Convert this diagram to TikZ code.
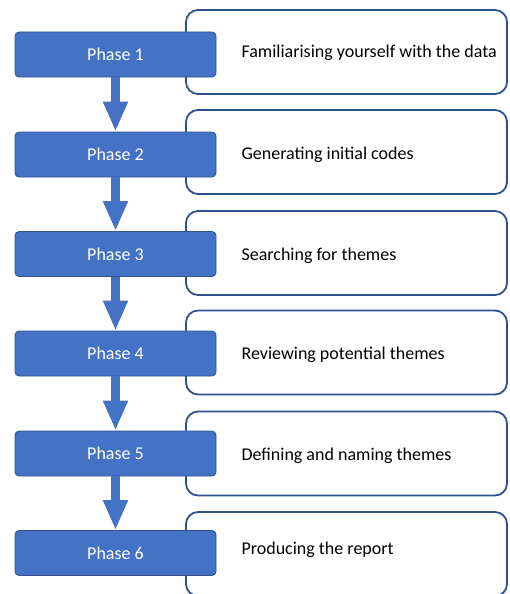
\documentclass[tikz,border=0pt]{standalone}
\usepackage{fontspec}
\setmainfont{Carlito}
\usetikzlibrary{arrows.meta}
\definecolor{fase}{HTML}{4472C4}
\definecolor{bordo}{HTML}{2F528F}

\begin{document}
\begin{tikzpicture}[x=1pt,y=-1pt,
    phase/.style={draw=bordo, line width=0.8pt, fill=fase, rounded corners=4pt,
        minimum width=201pt, minimum height=45pt, text=white, font=\fontsize{18}{21}\selectfont},
    desc/.style={draw=bordo, line width=1.8pt, fill=white, rounded corners=12pt,
        minimum width=321pt, minimum height=84pt},
    desctext/.style={anchor=west, font=\fontsize{18}{21}\selectfont},
    freccia/.style={draw=fase, line width=8.5pt, -{Triangle[length=30pt,width=23pt]}}]

\useasboundingbox (0,0) rectangle (509,594); % margini

% Riquadri di descrizione (dietro)
\node[desc] (d1) at (346.5,52) {};
\node[desc] (d2) at (346.5,152) {};
\node[desc] (d3) at (346.5,253) {};
\node[desc] (d4) at (346.5,352.5) {};
\node[desc] (d5) at (346.5,453.5) {};
\node[desc] (d6) at (346.5,554) {};

% Testi
\node[desctext] (t1) at (238,53) {Familiarising yourself with the data};
\node[desctext] (t2) at (238,155) {Generating initial codes};
\node[desctext] (t3) at (238,256) {Searching for themes};
\node[desctext] (t4) at (238,355) {Reviewing potential themes};
\node[desctext] (t5) at (238,456) {Defining and naming themes};
\node[desctext] (t6) at (238,550) {Producing the report};

% Fasi
\node[phase] (p1) at (115.5,54.5) {Phase 1};
\node[phase] (p2) at (115.5,154.5) {Phase 2};
\node[phase] (p3) at (115.5,254) {Phase 3};
\node[phase] (p4) at (115.5,353.5) {Phase 4};
\node[phase] (p5) at (115.5,453.5) {Phase 5};
\node[phase] (p6) at (115.5,553) {Phase 6};

% Frecce
\draw[freccia] (p1.south) -- (p2.north);
\draw[freccia] (p2.south) -- (p3.north);
\draw[freccia] (p3.south) -- (p4.north);
\draw[freccia] (p4.south) -- (p5.north);
\draw[freccia] (p5.south) -- (p6.north);

\end{tikzpicture}
\end{document}
